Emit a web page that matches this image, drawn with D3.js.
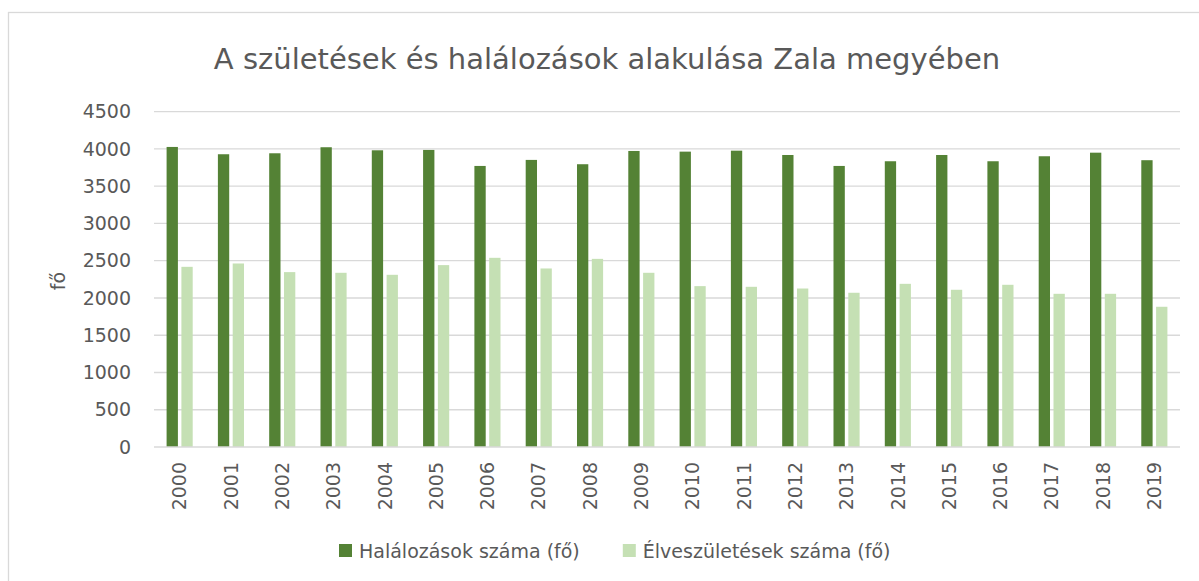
<!DOCTYPE html>
<meta charset="utf-8">
<script src="https://d3js.org/d3.v7.min.js"></script>
<style>
  body { margin: 0; background: #fff; }
  text { font-family: "DejaVu Sans", sans-serif; fill: #595959; }
</style>
<body>
<div id="chart"></div>
<script>
// data
var years = ["2000","2001","2002","2003","2004","2005","2006","2007","2008","2009",
             "2010","2011","2012","2013","2014","2015","2016","2017","2018","2019"];
var deaths = [4027,3929,3942,4023,3982,3987,3772,3853,3795,3973,
              3964,3977,3919,3772,3835,3919,3835,3902,3950,3849];
var births = [2418,2463,2347,2338,2311,2441,2539,2396,2525,2338,
              2159,2150,2127,2070,2190,2110,2177,2056,2056,1882];
var seriesNames = ["Halálozások száma (fő)", "Élveszületések száma (fő)"];
var seriesColors = ["#548235", "#C5E0B4"];
var yTicks = [0,500,1000,1500,2000,2500,3000,3500,4000,4500];

var W = 1199, H = 581;
var plot = {left: 154, right: 1180, top: 111.7, bottom: 447};

var svg = d3.select("#chart").append("svg")
  .attr("width", W).attr("height", H);

// chart frame
svg.append("rect")
  .attr("x", 8.5).attr("y", 12.5)
  .attr("width", 1230).attr("height", 600)
  .attr("fill", "none").attr("stroke", "#d9d9d9").attr("stroke-width", 1.3);

svg.append("text")
  .attr("x", 607).attr("y", 69)
  .attr("text-anchor", "middle")
  .style("font-size", "29px")
  .text("A születések és halálozások alakulása Zala megyében");

var x = d3.scaleBand().domain(years).range([plot.left, plot.right]).padding(0);
var xInner = d3.scaleBand().domain([0,1]).range([0, x.bandwidth()])
  .paddingInner(0.236).paddingOuter(0.851);
var y = d3.scaleLinear().domain([0, 4500]).range([plot.bottom, plot.top]);

// gridlines
svg.append("g").selectAll("line")
  .data(yTicks.filter(function(d){ return d > 0; }))
  .enter().append("line")
  .attr("x1", plot.left).attr("x2", plot.right)
  .attr("y1", function(d){ return y(d); }).attr("y2", function(d){ return y(d); })
  .attr("stroke", "#d9d9d9").attr("stroke-width", 1.3);

// y axis labels
var yAxis = d3.axisLeft(y).tickValues(yTicks).tickFormat(d3.format("d"))
  .tickSize(0).tickPadding(23);
var yg = svg.append("g").attr("transform", "translate(" + plot.left + ",0)").call(yAxis);
yg.select(".domain").remove();
yg.selectAll("text")
  .style("font-size", "19px").style("font-family", "DejaVu Sans").attr("fill", "#595959");

// bars
var data = years.map(function(yr, i){ return {year: yr, vals: [deaths[i], births[i]]}; });
var groups = svg.append("g").selectAll("g")
  .data(data).enter().append("g")
  .attr("transform", function(d){ return "translate(" + x(d.year) + ",0)"; });
groups.selectAll("rect")
  .data(function(d){ return d.vals; })
  .enter().append("rect")
  .attr("x", function(d, i){ return xInner(i); })
  .attr("width", xInner.bandwidth())
  .attr("y", function(d){ return y(d); })
  .attr("height", function(d){ return y(0) - y(d); })
  .attr("fill", function(d, i){ return seriesColors[i]; });

// x axis line and labels
svg.append("line")
  .attr("x1", plot.left).attr("x2", plot.right)
  .attr("y1", plot.bottom).attr("y2", plot.bottom)
  .attr("stroke", "#d9d9d9").attr("stroke-width", 1.3);

var xAxis = d3.axisBottom(x).tickSize(0).tickPadding(0);
var xg = svg.append("g").attr("transform", "translate(0," + plot.bottom + ")").call(xAxis);
xg.select(".domain").remove();
xg.selectAll("text")
  .style("font-size", "19px").style("font-family", "DejaVu Sans").attr("fill", "#595959")
  .attr("text-anchor", "end")
  .attr("transform", "rotate(-90)")
  .attr("x", -15).attr("y", 0).attr("dy", "0.35em");

// y axis title
svg.append("text")
  .attr("transform", "translate(65,281) rotate(-90)")
  .attr("text-anchor", "middle")
  .style("font-size", "19px")
  .text("fő");

// legend
var legend = svg.append("g");
var lx = 339;
seriesNames.forEach(function(name, i){
  legend.append("rect")
    .attr("x", lx).attr("y", 544).attr("width", 13).attr("height", 13)
    .attr("fill", seriesColors[i]);
  var t = legend.append("text")
    .attr("x", lx + 20).attr("y", 558)
    .style("font-size", "19px")
    .text(name);
  lx += 20 + t.node().getComputedTextLength() + 43;
});
</script>
</body>
